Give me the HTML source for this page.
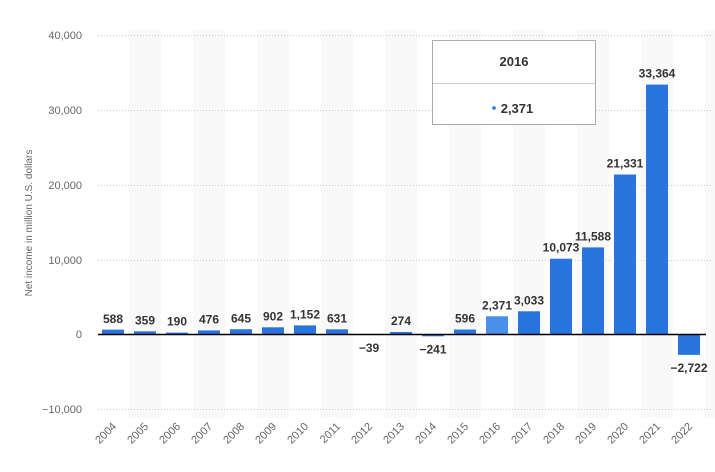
<!DOCTYPE html>
<html><head><meta charset="utf-8"><style>
html,body{margin:0;padding:0;background:#fff;}
svg{display:block;font-family:"Liberation Sans",sans-serif;}
</style></head><body>
<svg width="715" height="472" viewBox="0 0 715 472" xmlns="http://www.w3.org/2000/svg">
<g fill="#f9f9f9">
<rect x="129" y="30" width="32" height="388"/>
<rect x="193" y="30" width="32" height="388"/>
<rect x="257" y="30" width="32" height="388"/>
<rect x="321" y="30" width="32" height="388"/>
<rect x="385" y="30" width="32" height="388"/>
<rect x="449" y="30" width="32" height="388"/>
<rect x="513" y="30" width="32" height="388"/>
<rect x="577" y="30" width="32" height="388"/>
<rect x="641" y="30" width="32" height="388"/>
<rect x="705" y="30" width="10" height="388"/>
</g>
<g stroke="#c8c8c8" stroke-dasharray="1,2" stroke-width="1">
<line x1="98" x2="712" y1="35.5" y2="35.5"/>
<line x1="98" x2="712" y1="110.5" y2="110.5"/>
<line x1="98" x2="712" y1="185.5" y2="185.5"/>
<line x1="98" x2="712" y1="260.5" y2="260.5"/>
<line x1="98" x2="712" y1="409.5" y2="409.5"/>
</g>
<g fill="#666" font-size="11" text-anchor="end">
<text x="82" y="39">40,000</text>
<text x="82" y="114">30,000</text>
<text x="82" y="189">20,000</text>
<text x="82" y="264">10,000</text>
<text x="82" y="338">0</text>
<text x="82" y="413">−10,000</text>
</g>
<text transform="translate(32,223) rotate(-90)" fill="#666" font-size="10" text-anchor="middle">Net income in million U.S. dollars</text>
<g fill="#2876dd">
<rect x="102" y="329.6" width="22" height="4.4"/>
<rect x="134" y="331.3" width="22" height="2.7"/>
<rect x="166" y="332.6" width="22" height="1.4"/>
<rect x="198" y="330.4" width="22" height="3.6"/>
<rect x="230" y="329.2" width="22" height="4.8"/>
<rect x="262" y="327.3" width="22" height="6.7"/>
<rect x="294" y="325.4" width="22" height="8.6"/>
<rect x="326" y="329.3" width="22" height="4.7"/>
<rect x="358" y="334.5" width="22" height="0.5"/>
<rect x="390" y="332" width="22" height="2"/>
<rect x="422" y="334.5" width="22" height="1.8"/>
<rect x="454" y="329.5" width="22" height="4.5"/>
<rect x="486" y="316.3" width="22" height="17.7" fill="#4a90e8"/>
<rect x="518" y="311.3" width="22" height="22.7"/>
<rect x="550" y="258.7" width="22" height="75.3"/>
<rect x="582" y="247.4" width="22" height="86.6"/>
<rect x="614" y="174.5" width="22" height="159.5"/>
<rect x="646" y="84.6" width="22" height="249.4"/>
<rect x="678" y="334.5" width="22" height="20.4"/>
</g>
<g font-size="12" font-weight="bold" fill="#333" text-anchor="middle">
<text x="113" y="323">588</text>
<text x="145" y="324.5">359</text>
<text x="177" y="325.5">190</text>
<text x="209" y="323.5">476</text>
<text x="241" y="322.5">645</text>
<text x="273" y="320.5">902</text>
<text x="305" y="318.5">1,152</text>
<text x="337" y="322.5">631</text>
<text x="369" y="352">−39</text>
<text x="401" y="325">274</text>
<text x="433" y="353.5">−241</text>
<text x="465" y="322.5">596</text>
<text x="497" y="309.5">2,371</text>
<text x="529" y="304.5">3,033</text>
<text x="561" y="251.5">10,073</text>
<text x="593" y="240.5">11,588</text>
<text x="625" y="167.5">21,331</text>
<text x="657" y="77.5">33,364</text>
<text x="689" y="372">−2,722</text>
</g>
<g font-size="11" fill="#666" text-anchor="end">
<text transform="translate(117,427) rotate(-45)">2004</text>
<text transform="translate(149,427) rotate(-45)">2005</text>
<text transform="translate(181,427) rotate(-45)">2006</text>
<text transform="translate(213,427) rotate(-45)">2007</text>
<text transform="translate(245,427) rotate(-45)">2008</text>
<text transform="translate(277,427) rotate(-45)">2009</text>
<text transform="translate(309,427) rotate(-45)">2010</text>
<text transform="translate(341,427) rotate(-45)">2011</text>
<text transform="translate(373,427) rotate(-45)">2012</text>
<text transform="translate(405,427) rotate(-45)">2013</text>
<text transform="translate(437,427) rotate(-45)">2014</text>
<text transform="translate(469,427) rotate(-45)">2015</text>
<text transform="translate(501,427) rotate(-45)">2016</text>
<text transform="translate(533,427) rotate(-45)">2017</text>
<text transform="translate(565,427) rotate(-45)">2018</text>
<text transform="translate(597,427) rotate(-45)">2019</text>
<text transform="translate(629,427) rotate(-45)">2020</text>
<text transform="translate(661,427) rotate(-45)">2021</text>
<text transform="translate(693,427) rotate(-45)">2022</text>
</g>
<line x1="98" x2="706" y1="334.5" y2="334.5" stroke="#000" stroke-width="1.5"/>
<rect x="432.5" y="40.5" width="163" height="84" fill="#fff" stroke="#aaa"/>
<line x1="433" x2="595" y1="83.5" y2="83.5" stroke="#ccc"/>
<text x="514" y="66" font-size="13" font-weight="bold" fill="#333" text-anchor="middle">2016</text>
<circle cx="494" cy="108" r="1.8" fill="#2876dd"/>
<text x="517" y="113" font-size="13" font-weight="bold" fill="#333" text-anchor="middle">2,371</text>
</svg>
</body></html>
